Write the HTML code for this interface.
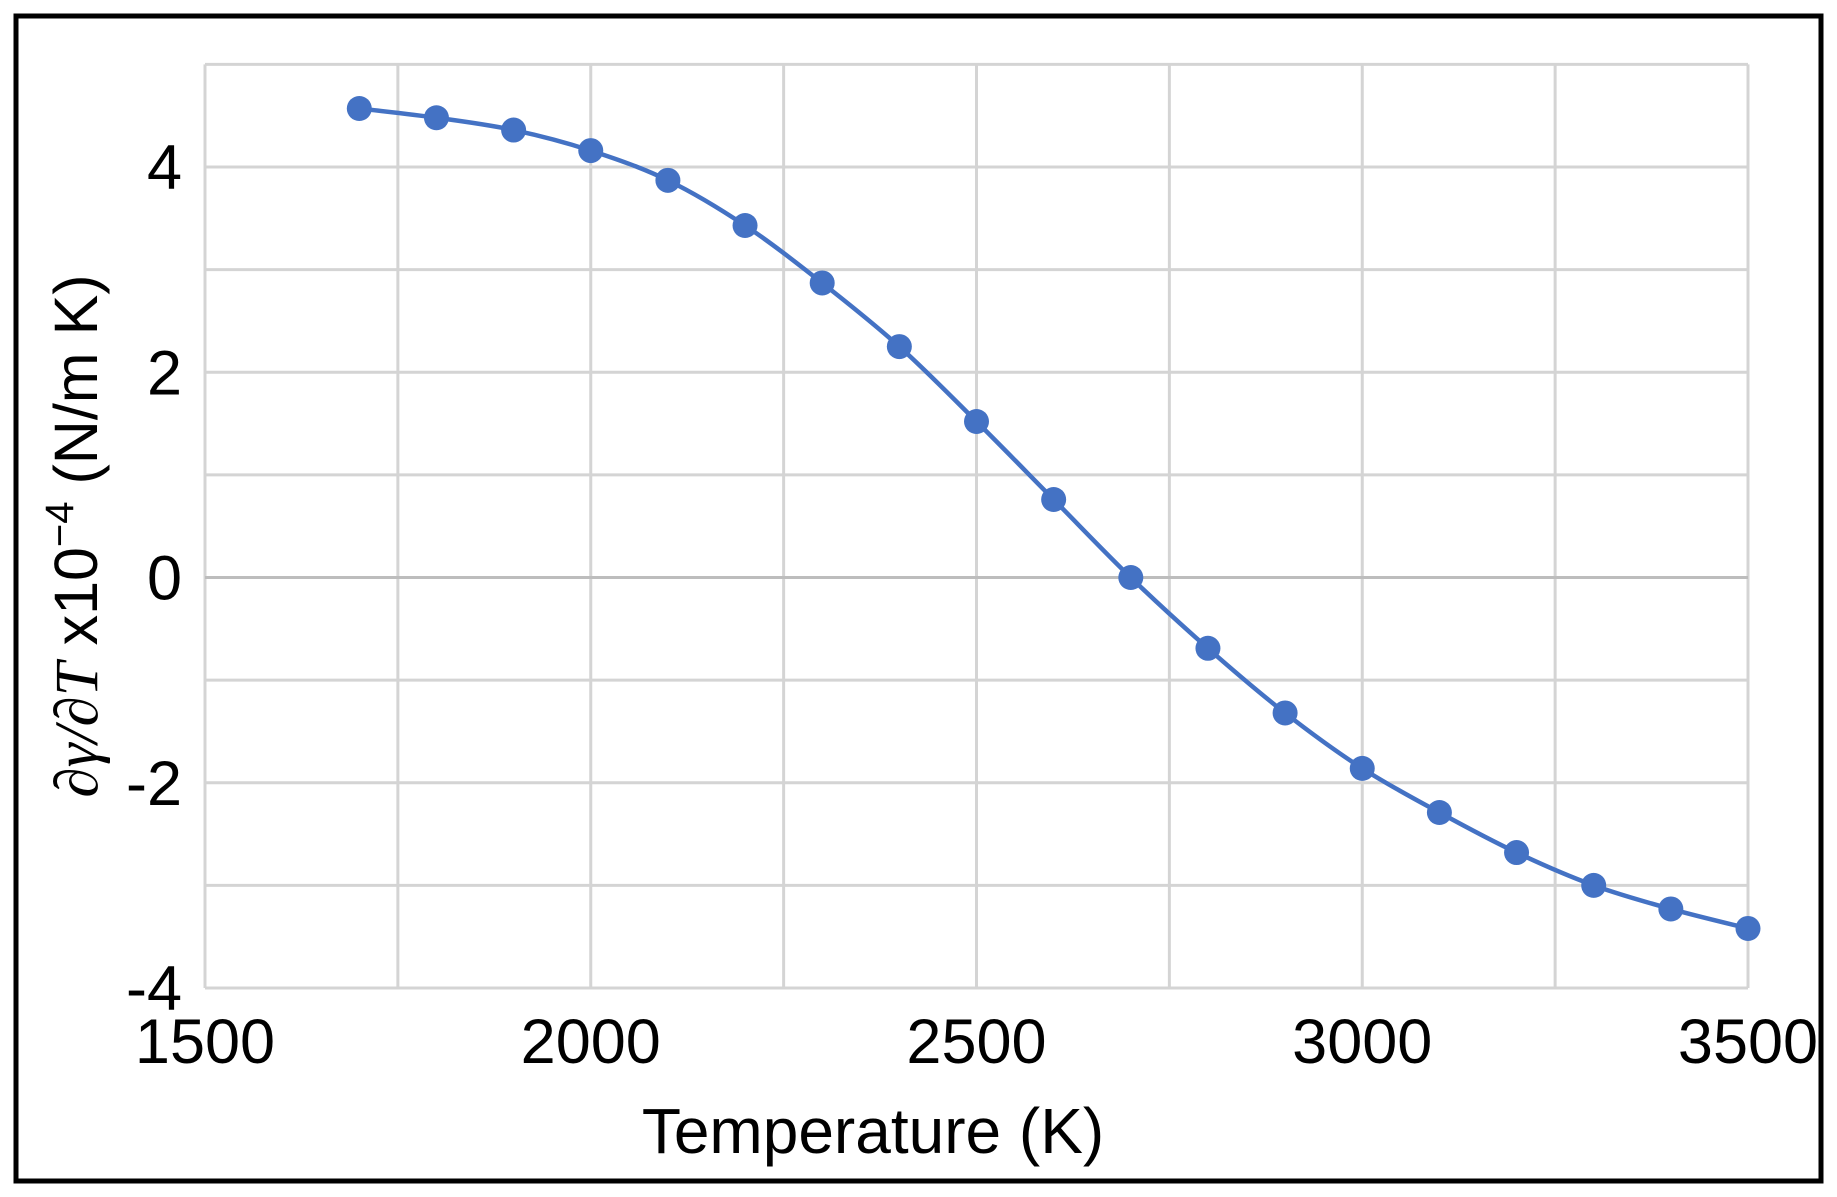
<!DOCTYPE html>
<html><head><meta charset="utf-8"><style>
html,body{margin:0;padding:0;background:#fff;}
svg{display:block;font-family:"Liberation Sans",Arial,sans-serif;}
</style></head><body>
<svg id="chart" width="1837" height="1197" viewBox="0 0 1837 1197">
<rect x="16" y="16" width="1805" height="1165" fill="#fff" stroke="#000" stroke-width="5"/>
<g id="grid"></g>
<g id="ticks"></g>
<path id="line" fill="none" stroke="#4472C4" stroke-width="4.5"/>
<g id="pts"></g>
<text x="873" y="1153" font-size="64" text-anchor="middle" fill="#000">Temperature (K)</text>
<text transform="translate(97,536) rotate(-90)" font-size="61" text-anchor="middle" fill="#000"><tspan font-family="Liberation Serif,serif" font-style="italic">∂γ/∂T</tspan> x10<tspan dy="-24" font-size="40">−4</tspan><tspan dy="24"> (N/m K)</tspan></text>
</svg>
<script>
const temps=[1700,1800,1900,2000,2100,2200,2300,2400,2500,2600,2700,2800,2900,3000,3100,3200,3300,3400,3500];
const values=[4.57,4.48,4.36,4.16,3.87,3.43,2.87,2.25,1.52,0.76,0.0,-0.69,-1.32,-1.86,-2.29,-2.68,-3.0,-3.23,-3.42];
const xTicks=[1500,2000,2500,3000,3500];
const yTicks=[-4,-2,0,2,4];
const NS="http://www.w3.org/2000/svg";
const X0=205,X1=1748,Y0=988,Y1=167;
function sx(t){return X0+(t-1500)/2000*(X1-X0);}
function sy(v){return Y0-(v+4)/8*(Y0-Y1);}
const grid=document.getElementById('grid');
for(let t=1500;t<=3500;t+=250){
 const l=document.createElementNS(NS,'line');
 l.setAttribute('x1',sx(t));l.setAttribute('x2',sx(t));l.setAttribute('y1',sy(5));l.setAttribute('y2',sy(-4));
 l.setAttribute('stroke','#d4d4d4');l.setAttribute('stroke-width','3');
 
 
 grid.appendChild(l);
}
for(let v=-4;v<=5;v+=1){
 const l=document.createElementNS(NS,'line');
 l.setAttribute('x1',sx(1500));l.setAttribute('x2',sx(3500));l.setAttribute('y1',sy(v));l.setAttribute('y2',sy(v));
 l.setAttribute('stroke',v===0?'#bdbdbd':'#d4d4d4');l.setAttribute('stroke-width','3');
 
 
 grid.appendChild(l);
}
const tk=document.getElementById('ticks');
xTicks.forEach(t=>{
 const e=document.createElementNS(NS,'text');
 e.setAttribute('x',sx(t));e.setAttribute('y',1063);e.setAttribute('font-size','63');e.setAttribute('text-anchor','middle');
 e.textContent=t;
 
 
 tk.appendChild(e);
});
yTicks.forEach(v=>{
 const e=document.createElementNS(NS,'text');
 e.setAttribute('x',182);e.setAttribute('y',sy(v)+22);e.setAttribute('font-size','63');e.setAttribute('text-anchor','end');
 e.textContent=v;
 
 
 tk.appendChild(e);
});
const P=temps.map((t,i)=>[sx(t),sy(values[i])]);
let d='M'+P[0][0]+','+P[0][1];
for(let i=0;i<P.length-1;i++){
 const p0=P[Math.max(0,i-1)],p1=P[i],p2=P[i+1],p3=P[Math.min(P.length-1,i+2)];
 const c1=[p1[0]+(p2[0]-p0[0])/6,p1[1]+(p2[1]-p0[1])/6];
 const c2=[p2[0]-(p3[0]-p1[0])/6,p2[1]-(p3[1]-p1[1])/6];
 d+=' C'+c1[0]+','+c1[1]+' '+c2[0]+','+c2[1]+' '+p2[0]+','+p2[1];
}
document.getElementById('line').setAttribute('d',d);
const pts=document.getElementById('pts');
P.forEach(p=>{
 const c=document.createElementNS(NS,'circle');
 c.setAttribute('cx',p[0]);c.setAttribute('cy',p[1]);c.setAttribute('r',12.5);c.setAttribute('fill','#4472C4');
 
 
 pts.appendChild(c);
});
</script>
</body></html>
